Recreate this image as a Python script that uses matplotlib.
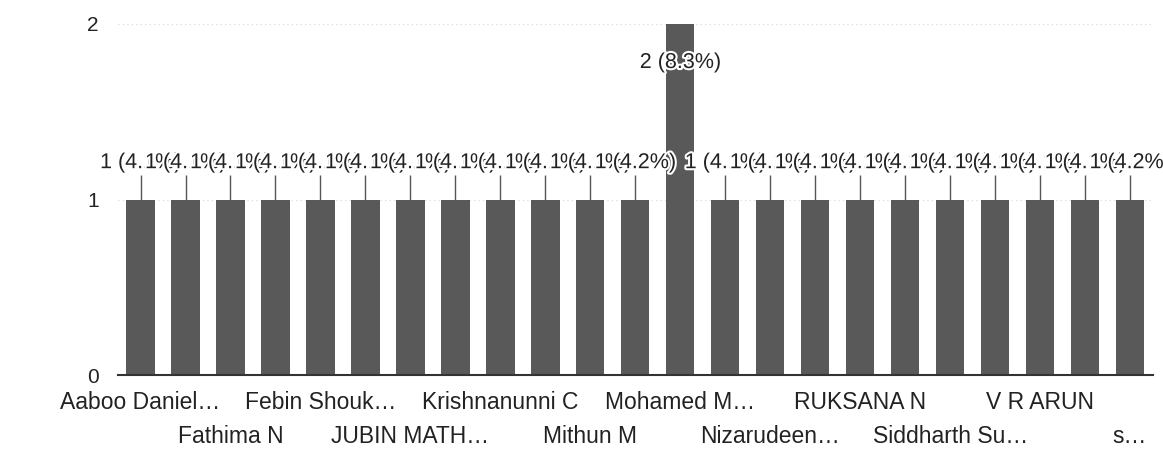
import matplotlib.pyplot as plt
import matplotlib.patheffects as pe
import numpy as np

plt.rcParams['font.family'] = ['Liberation Sans', 'DejaVu Sans']

# response counts per respondent (23 bars, one with 2 responses)
counts = [1, 1, 1, 1, 1, 1, 1, 1, 1, 1, 1, 1, 2, 1, 1, 1, 1, 1, 1, 1, 1, 1, 1]
percents = ['4.1%', '4.1%', '4.1%', '4.1%', '4.1%', '4.1%', '4.1%', '4.1%',
            '4.1%', '4.1%', '4.1%', '4.2%', '8.3%', '4.1%', '4.1%', '4.1%',
            '4.1%', '4.1%', '4.1%', '4.1%', '4.1%', '4.1%', '4.2%']
# only every other category name is shown on the axis
shown_labels = ['Aaboo Daniel…', 'Fathima N', 'Febin Shouk…', 'JUBIN MATH…',
                'Krishnanunni C', 'Mithun M', 'Mohamed M…', 'Nizarudeen…',
                'RUKSANA N', 'Siddharth Su…', 'V R ARUN', 's…']
y_ticks = [0, 1, 2]

fig = plt.figure(figsize=(11.63, 4.5), dpi=100)
ax = fig.add_axes([0.1015, 0.166, 0.8895, 0.781])

x = np.arange(len(counts))
ax.bar(x, counts, width=0.63, color='#595959', zorder=2)

ax.set_xlim(-0.5, len(counts) - 0.5)
ax.set_ylim(0, 2)
ax.set_yticks(y_ticks)
ax.set_yticklabels([str(t) for t in y_ticks], fontsize=15, color='#222222')
ax.tick_params(axis='y', length=0, pad=14)

ax.set_xticks(x[::2])
ax.set_xticklabels(shown_labels, fontsize=16.5, color='#222222')
ax.tick_params(axis='x', length=0)
for k, tick in enumerate(ax.xaxis.get_major_ticks()):
    tick.set_pad(11 if k % 2 == 0 else 36)

for s in ['top', 'right', 'left']:
    ax.spines[s].set_visible(False)
ax.spines['bottom'].set_color('#333333')
ax.spines['bottom'].set_linewidth(1.5)

for t in y_ticks[1:]:
    ax.axhline(t, color='#d8d8d8', lw=0.8, ls=(0, (1, 3)), zorder=1)

halo = [pe.withStroke(linewidth=3, foreground='white')]
top = max(counts)
for i, (c, p) in enumerate(zip(counts, percents)):
    label = f'{c} ({p})'
    if c == top:
        ax.text(i, c - 0.22, label, ha='center', va='center', fontsize=15.5,
                color='#222222', path_effects=halo, zorder=5)
    else:
        ax.vlines(i, c, c + 0.14, color='#555555', lw=1, zorder=3)
        ax.text(i, c + 0.21, label, ha='center', va='center', fontsize=15.5,
                color='#222222', path_effects=halo, zorder=4)

fig.savefig('out.png', dpi=100)
